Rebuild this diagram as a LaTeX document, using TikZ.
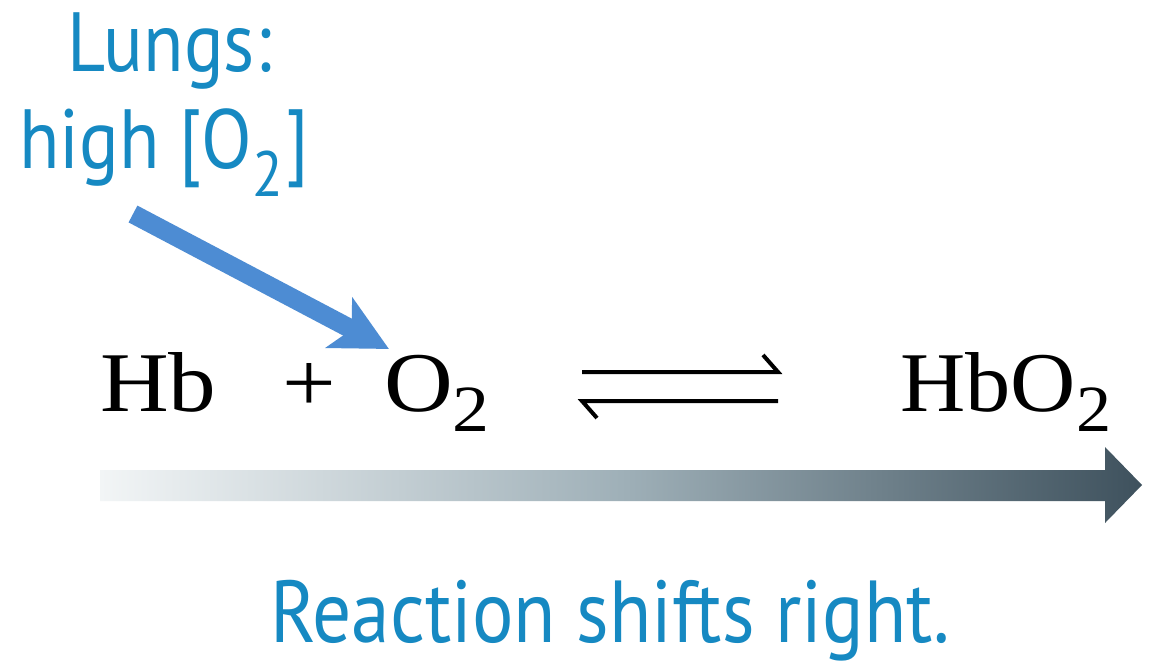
\documentclass[tikz,border=0pt]{standalone}
\usepackage{fontspec}
\setmainfont[FakeStretch=1.12]{Liberation Serif}
\newfontfamily\labelsans[FakeStretch=0.88]{PT Sans}
\usetikzlibrary{arrows.meta}
\definecolor{lblblue}{HTML}{1689C2}
\definecolor{arrblue}{HTML}{4D8CD3}
\definecolor{gradL}{HTML}{F2F5F6}
\definecolor{gradM}{HTML}{9FB0B8}
\definecolor{gradR}{HTML}{3E515D}
\tikzset{
  lbl/.style={inner sep=0pt, anchor=base west, text=lblblue, font=\labelsans\fontsize{84}{84}\selectfont},
  chem/.style={inner sep=0pt, anchor=base west, text=black, font=\fontsize{85}{85}\selectfont},
  eqline/.style={line width=4pt, line cap=butt, line join=miter},
}
\newcommand{\chemsub}[1]{\raisebox{-20pt}{\fontsize{66}{66}\selectfont #1}}
\newcommand{\lblsub}[1]{\raisebox{-28pt}{\fontsize{64}{64}\selectfont #1}}
\begin{document}
\begin{tikzpicture}[x=1pt,y=-1pt]
\path[use as bounding box, fill=white] (0,0) rectangle (1150,665);
% labels
\node[lbl] (lungs) at (67,71) {Lungs:};
\node[lbl] (high) at (19,168) {high [O\lblsub{2}\kern3pt]};
% equation
\node[chem] (hb) at (100,411) {Hb};
\node[chem] (plus) at (282,411) {+};
\node[chem] (o2) at (384,411) {O\chemsub{2}};
\node[chem] (hbo2) at (900,411) {\scalebox{0.95}[1]{HbO\chemsub{2}}};
% equilibrium harpoons
\coordinate (eqa) at (582,372);
\coordinate (eqb) at (778,372);
\coordinate (eqc) at (582,401);
\coordinate (eqd) at (778,401);
\draw[eqline] (eqa) -- (eqb) -- ++(-15,-17);
\draw[eqline] (eqd) -- (eqc) -- ++(15,17);
% blue arrow from label to O2
\coordinate (btail) at (133,214);
\coordinate (btip) at (389,349);
\draw[arrblue, line width=19pt, -{Stealth[length=56pt,width=56pt,inset=14pt]}] (btail) -- (btip);
% gradient arrow
\coordinate (gs) at (100,485);
\coordinate (gt) at (1142,485);
\shade[left color=gradL, right color=gradR, middle color=gradM]
  (100,470) -- (1105,470) -- (1105,447) -- (gt) -- (1105,523) -- (1105,501) -- (100,501) -- cycle;
% bottom text
\node[lbl, font=\labelsans\fontsize{88}{88}\selectfont] (shift) at (270,642) {Reaction shifts right.};
\end{tikzpicture}
\end{document}
